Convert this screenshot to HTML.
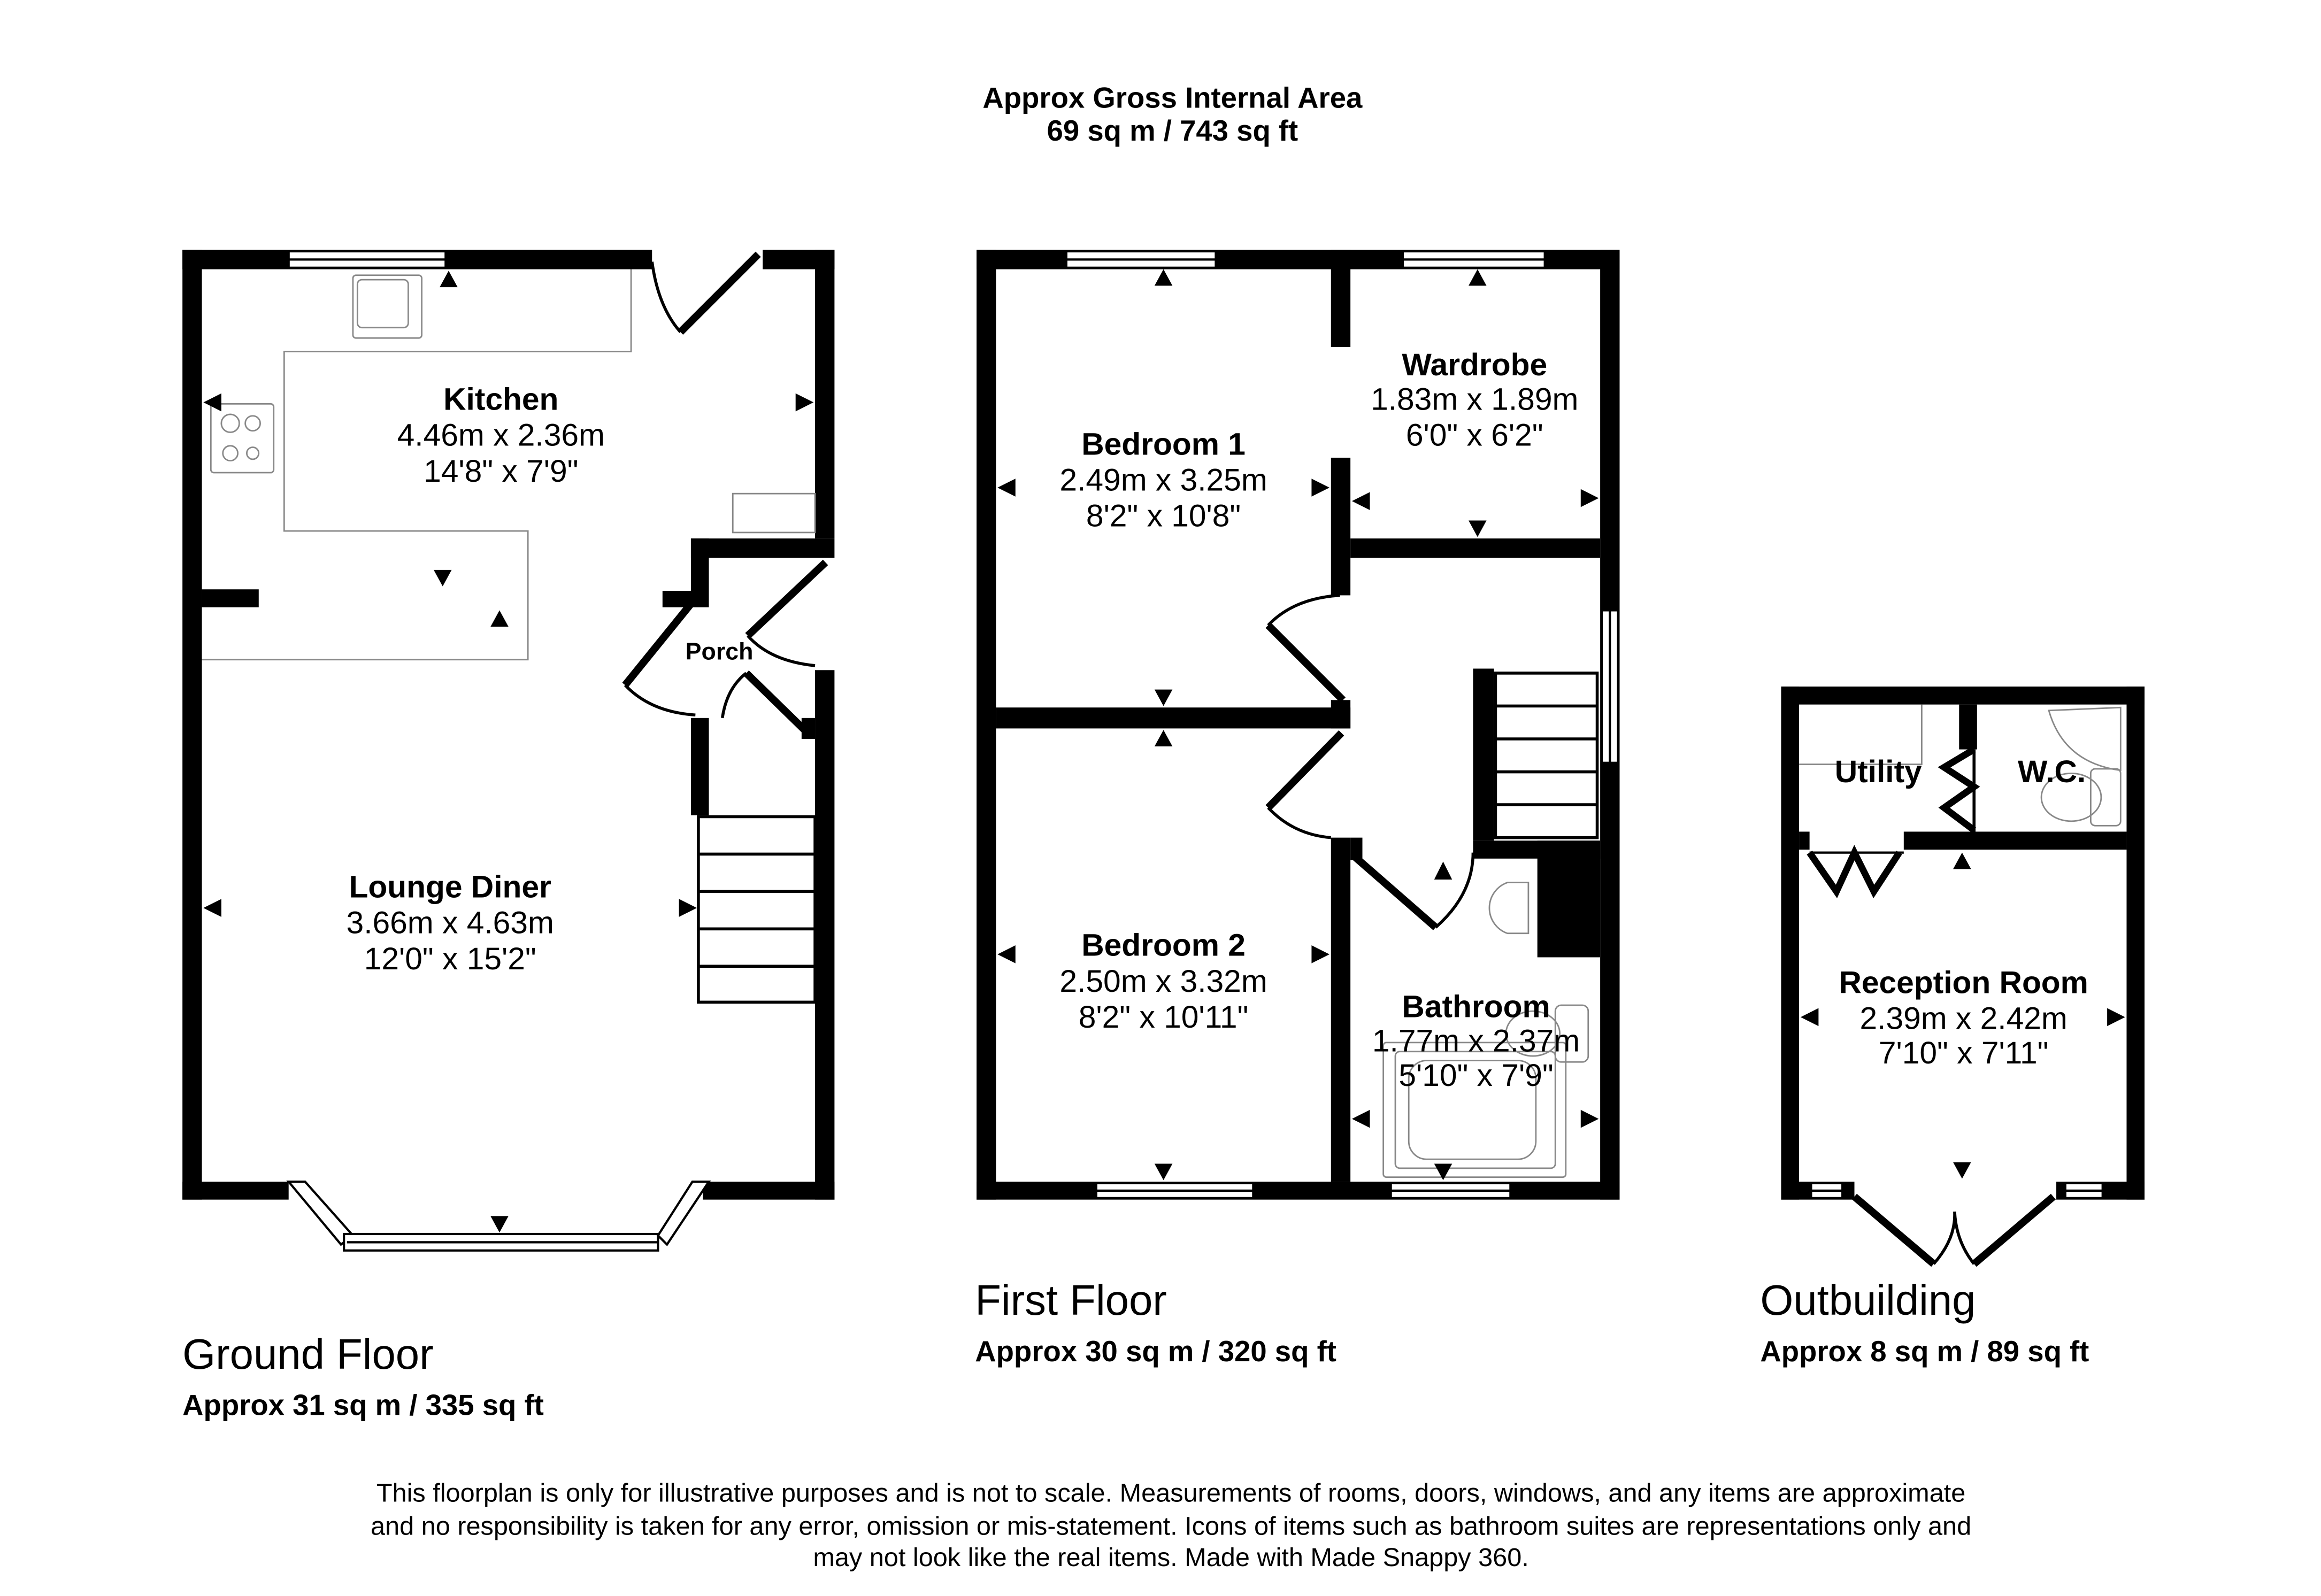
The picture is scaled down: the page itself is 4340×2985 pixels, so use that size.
<!DOCTYPE html>
<html><head><meta charset="utf-8"><style>
html,body{margin:0;padding:0;background:#fff}
svg{display:block}
text{font-family:"Liberation Sans",Arial,sans-serif;fill:#000}
.b{font-weight:bold}
</style></head><body>
<svg width="4340" height="2985" viewBox="0 0 1552 1067" preserveAspectRatio="none" xmlns="http://www.w3.org/2000/svg">
<rect width="1552" height="1067" fill="#fff"/>
<g text-anchor="middle" font-size="19.5" class="b">
<text x="784" y="72" class="b">Approx Gross Internal Area</text>
<text x="784" y="94" class="b">69 sq m / 743 sq ft</text>
</g>

<!-- ========== GROUND FLOOR ========== -->
<g fill="#000">
<rect x="122" y="167" width="314" height="13"/>
<rect x="510" y="167" width="48" height="13"/>
<rect x="122" y="167" width="13" height="635"/>
<rect x="545" y="167" width="13" height="193"/>
<rect x="462" y="360" width="96" height="13"/>
<rect x="462" y="360" width="12" height="45"/>
<rect x="443" y="395" width="31" height="11"/>
<rect x="545" y="448" width="13" height="354"/>
<rect x="462" y="480" width="12" height="65"/>
<rect x="135" y="394" width="38" height="12"/>
<rect x="536" y="480" width="9" height="14"/>
<rect x="122" y="790" width="71" height="12"/>
<rect x="470" y="790" width="88" height="12"/>
</g>
<g fill="#fff" stroke="#000" stroke-width="1.5">
<rect x="193" y="168" width="105" height="11"/>
<polygon points="193,790 204,790 236,826 228,832"/>
<rect x="230" y="825" width="210" height="11"/>
<polygon points="440,826 463,790 474,790 446,832"/>
</g>
<line x1="193" y1="173.5" x2="298" y2="173.5" stroke="#000" stroke-width="1.5"/>
<line x1="232" y1="830.5" x2="440" y2="830.5" stroke="#000" stroke-width="1.5"/>
<g fill="none" stroke="#888" stroke-width="1">
<polyline points="422,180 422,235 190,235 190,355 353,355 353,441 135,441"/>
<rect x="236" y="184" width="46" height="42" rx="2"/>
<rect x="239" y="187" width="34" height="32" rx="3"/>
<rect x="141" y="270" width="42" height="46" rx="2"/>
<circle cx="154" cy="283" r="6"/><circle cx="169" cy="283" r="5"/>
<circle cx="154" cy="303" r="5"/><circle cx="169" cy="303" r="4"/>
<rect x="490" y="330" width="55" height="26"/>
</g>
<g stroke="#000" fill="none">
<line x1="455" y1="222" x2="507" y2="170" stroke-width="5"/>
<path d="M436,175 Q440,205 455,222" stroke-width="2"/>
<line x1="418" y1="458" x2="465" y2="400" stroke-width="5"/>
<path d="M418,458 Q435,476 465,478" stroke-width="2"/>
<line x1="500" y1="425" x2="552" y2="376" stroke-width="5"/>
<path d="M500,425 Q515,442 545,445" stroke-width="2"/>
<line x1="499" y1="450" x2="540" y2="490" stroke-width="5"/>
<path d="M483,480 Q486,460 499,450" stroke-width="2"/>
</g>
<g fill="none" stroke="#000" stroke-width="2">
<rect x="467" y="546" width="78" height="124"/>
<line x1="467" y1="571" x2="545" y2="571"/>
<line x1="467" y1="596" x2="545" y2="596"/>
<line x1="467" y1="621" x2="545" y2="621"/>
<line x1="467" y1="646" x2="545" y2="646"/>
</g>
<g fill="#000">
<polygon points="300,181 294,192 306,192"/>
<polygon points="136,269 148,263 148,275"/>
<polygon points="544,269 532,263 532,275"/>
<polygon points="296,392 290,381 302,381"/>
<polygon points="334,408 328,419 340,419"/>
<polygon points="136,607 148,601 148,613"/>
<polygon points="466,607 454,601 454,613"/>
<polygon points="334,824 328,813 340,813"/>
</g>
<g text-anchor="middle" font-size="21">
<text x="335" y="274" class="b">Kitchen</text>
<text x="335" y="298">4.46m x 2.36m</text>
<text x="335" y="322">14'8" x 7'9"</text>
<text x="481" y="441" font-size="16" class="b">Porch</text>
<text x="301" y="600" class="b">Lounge Diner</text>
<text x="301" y="624">3.66m x 4.63m</text>
<text x="301" y="648">12'0" x 15'2"</text>
</g>
<text x="122" y="915" font-size="28.5">Ground Floor</text>
<text x="122" y="946" font-size="19.5" class="b">Approx 31 sq m / 335 sq ft</text>

<!-- ========== FIRST FLOOR ========== -->
<g fill="#000">
<rect x="653" y="167" width="430" height="13"/>
<rect x="653" y="167" width="13" height="635"/>
<rect x="1070" y="167" width="13" height="635"/>
<rect x="653" y="790" width="430" height="12"/>
<rect x="890" y="167" width="13" height="65"/>
<rect x="890" y="306" width="13" height="92"/>
<rect x="903" y="360" width="167" height="13"/>
<rect x="666" y="473" width="237" height="14"/>
<rect x="890" y="468" width="13" height="19"/>
<rect x="890" y="560" width="13" height="230"/>
<rect x="903" y="560" width="8" height="15"/>
<rect x="985" y="447" width="14" height="115"/>
<rect x="985" y="562" width="85" height="12"/>
<rect x="1028" y="562" width="42" height="78"/>
</g>
<g fill="#fff" stroke="#000" stroke-width="1.5">
<rect x="713" y="168" width="100" height="11"/>
<rect x="938" y="168" width="95" height="11"/>
<rect x="1071" y="408" width="11" height="102"/>
<rect x="733" y="791" width="105" height="10"/>
<rect x="930" y="791" width="80" height="10"/>
</g>
<g stroke="#000" stroke-width="1.5">
<line x1="713" y1="173.5" x2="813" y2="173.5"/>
<line x1="938" y1="173.5" x2="1033" y2="173.5"/>
<line x1="1076.5" y1="408" x2="1076.5" y2="510"/>
<line x1="733" y1="796" x2="838" y2="796"/>
<line x1="930" y1="796" x2="1010" y2="796"/>
</g>
<g fill="none" stroke="#000" stroke-width="2">
<rect x="1000" y="450" width="68" height="110"/>
<line x1="1000" y1="472" x2="1068" y2="472"/>
<line x1="1000" y1="494" x2="1068" y2="494"/>
<line x1="1000" y1="516" x2="1068" y2="516"/>
<line x1="1000" y1="538" x2="1068" y2="538"/>
</g>
<g stroke="#000" fill="none">
<line x1="848" y1="418" x2="898" y2="468" stroke-width="5"/>
<path d="M848,418 Q865,400 896,398" stroke-width="2"/>
<line x1="848" y1="540" x2="897" y2="490" stroke-width="5"/>
<path d="M848,540 Q865,558 890,560" stroke-width="2"/>
<line x1="905" y1="572" x2="960" y2="620" stroke-width="5"/>
<path d="M960,620 Q985,598 985,570" stroke-width="2"/>
</g>
<g fill="none" stroke="#888" stroke-width="1">
<path d="M1022,590 L1008,590 A18,18 0 0 0 1008,624 L1022,624 Z"/>
<rect x="1040" y="672" width="22" height="38" rx="4"/>
<ellipse cx="1025" cy="691" rx="18" ry="15"/>
<rect x="925" y="697" width="122" height="90" rx="2"/>
<rect x="933" y="703" width="107" height="78" rx="3"/>
<rect x="942" y="709" width="85" height="66" rx="12"/>
</g>
<g fill="#000">
<polygon points="778,180 772,191 784,191"/>
<polygon points="988,180 982,191 994,191"/>
<polygon points="667,326 679,320 679,332"/>
<polygon points="889,326 877,320 877,332"/>
<polygon points="904,335 916,329 916,341"/>
<polygon points="1069,333 1057,327 1057,339"/>
<polygon points="988,359 982,348 994,348"/>
<polygon points="778,472 772,461 784,461"/>
<polygon points="778,488 772,499 784,499"/>
<polygon points="965,576 959,588 971,588"/>
<polygon points="667,638 679,632 679,644"/>
<polygon points="889,638 877,632 877,644"/>
<polygon points="904,748 916,742 916,754"/>
<polygon points="1069,748 1057,742 1057,754"/>
<polygon points="778,789 772,778 784,778"/>
<polygon points="965,789 959,778 971,778"/>
</g>
<g text-anchor="middle" font-size="21">
<text x="778" y="304" class="b">Bedroom 1</text>
<text x="778" y="328">2.49m x 3.25m</text>
<text x="778" y="352">8'2" x 10'8"</text>
<text x="986" y="251" class="b">Wardrobe</text>
<text x="986" y="274">1.83m x 1.89m</text>
<text x="986" y="298">6'0" x 6'2"</text>
<text x="778" y="639" class="b">Bedroom 2</text>
<text x="778" y="663">2.50m x 3.32m</text>
<text x="778" y="687">8'2" x 10'11"</text>
<text x="987" y="680" class="b">Bathroom</text>
<text x="987" y="703">1.77m x 2.37m</text>
<text x="987" y="726">5'10" x 7'9"</text>
</g>
<text x="652" y="879" font-size="28.5">First Floor</text>
<text x="652" y="910" font-size="19.5" class="b">Approx 30 sq m / 320 sq ft</text>

<!-- ========== OUTBUILDING ========== -->
<g fill="#000">
<rect x="1191" y="459" width="243" height="12"/>
<rect x="1191" y="459" width="12" height="343"/>
<rect x="1422" y="459" width="12" height="343"/>
<rect x="1191" y="790" width="49" height="12"/>
<rect x="1375" y="790" width="59" height="12"/>
<rect x="1310" y="471" width="12" height="30"/>
<rect x="1273" y="556" width="149" height="12"/>
<rect x="1203" y="556" width="7" height="12"/>
</g>
<g fill="#fff" stroke="#000" stroke-width="1.5">
<rect x="1211" y="791" width="21" height="10"/>
<rect x="1381" y="791" width="25" height="10"/>
</g>
<g stroke="#000" stroke-width="1.5">
<line x1="1211" y1="796" x2="1232" y2="796"/>
<line x1="1381" y1="796" x2="1406" y2="796"/>
</g>
<g stroke="#000" fill="none">
<polyline points="1210,570 1228,596 1240,570 1253,596 1270,570" stroke-width="4.5"/>
<polyline points="1320,501 1300,513 1320,526 1300,540 1320,555" stroke-width="4.5"/>
<line x1="1320" y1="501" x2="1320" y2="556" stroke-width="2"/>
<line x1="1240" y1="800" x2="1293" y2="845" stroke-width="5"/>
<line x1="1373" y1="800" x2="1320" y2="845" stroke-width="5"/>
<path d="M1293,845 Q1308,828 1307,810 Q1308,830 1320,845" stroke-width="2"/>
<line x1="1210" y1="570" x2="1273" y2="570" stroke-width="1.5"/>
</g>
<g fill="none" stroke="#888" stroke-width="1">
<polyline points="1203,511 1285,511 1285,471"/>
<path d="M1418,473 L1418,515 Q1380,510 1370,475 Z"/>
<rect x="1398" y="514" width="20" height="38" rx="3"/>
<ellipse cx="1385" cy="533" rx="20" ry="16"/>
</g>
<g fill="#000">
<polygon points="1312,570 1306,581 1318,581"/>
<polygon points="1204,680 1216,674 1216,686"/>
<polygon points="1421,680 1409,674 1409,686"/>
<polygon points="1312,788 1306,777 1318,777"/>
</g>
<g text-anchor="middle" font-size="21">
<text x="1256" y="523" class="b">Utility</text>
<text x="1372" y="523" class="b">W.C.</text>
<text x="1313" y="664" class="b">Reception Room</text>
<text x="1313" y="688">2.39m x 2.42m</text>
<text x="1313" y="711">7'10" x 7'11"</text>
</g>
<text x="1177" y="879" font-size="28.5">Outbuilding</text>
<text x="1177" y="910" font-size="19.5" class="b">Approx 8 sq m / 89 sq ft</text>

<g text-anchor="middle" font-size="17.4">
<text x="783" y="1004">This floorplan is only for illustrative purposes and is not to scale. Measurements of rooms, doors, windows, and any items are approximate</text>
<text x="783" y="1026">and no responsibility is taken for any error, omission or mis-statement. Icons of items such as bathroom suites are representations only and</text>
<text x="783" y="1047">may not look like the real items. Made with Made Snappy 360.</text>
</g>
</svg>
</body></html>
